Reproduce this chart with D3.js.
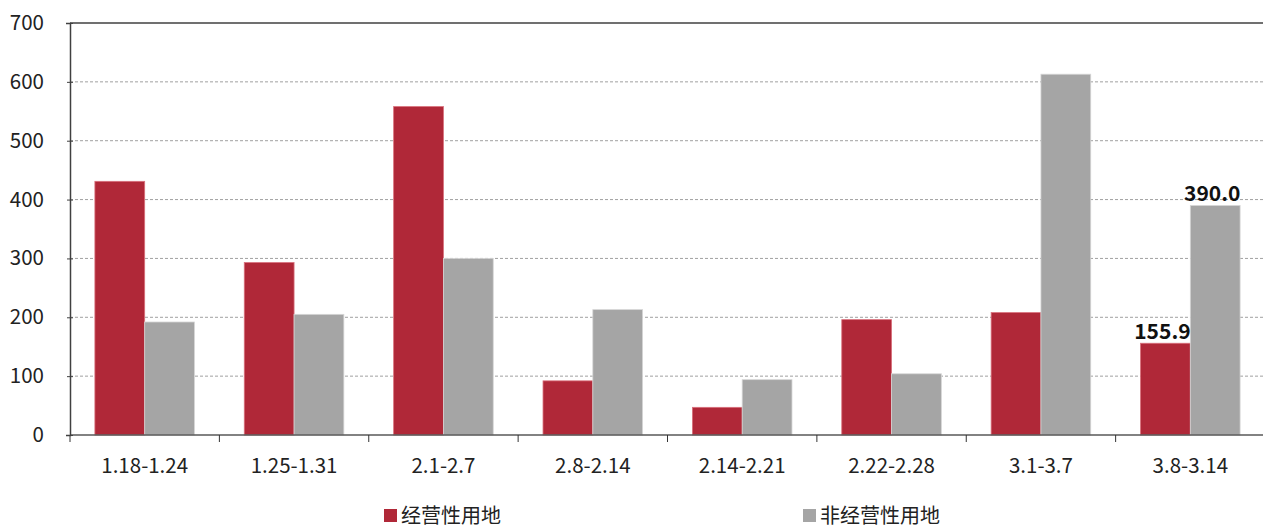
<!DOCTYPE html>
<html>
<head>
<meta charset="utf-8">
<title></title>
<script src="https://d3js.org/d3.v7.min.js"></script>
<style>
  body { margin: 0; background: #fff; }
  svg { font-family: "Noto Sans CJK SC", "Noto Sans", sans-serif; }
</style>
</head>
<body>
<svg width="1263" height="528" id="svg1"></svg>
<script>
var categories = ['1.18-1.24', '1.25-1.31', '2.1-2.7', '2.8-2.14', '2.14-2.21', '2.22-2.28', '3.1-3.7', '3.8-3.14'];
var seriesNames = ['经营性用地', '非经营性用地'];
var commercial = [431, 293, 558, 92, 47, 196, 208, 155.9];
var nonCommercial = [192, 205, 300, 213, 94, 104, 613, 390.0];
var yTicks = [0, 100, 200, 300, 400, 500, 600, 700];
var colors = ['#B02838', '#A5A5A5'];

var svg = d3.select('#svg1'),
    plotLeft = 70, plotRight = 1265, plotTop = 23, plotBottom = 435;

var data = categories.map(function(c, i) {
  return {name: c, values: [commercial[i], nonCommercial[i]]};
});

var x0 = d3.scaleBand().domain(categories).range([plotLeft, plotRight]);
var x1 = d3.scaleBand().domain([0, 1])
  .range([x0.bandwidth() / 6, x0.bandwidth() * 5 / 6]);
var y = d3.scaleLinear().domain([0, 700]).range([plotBottom, plotTop]);

// gridlines
svg.append('g')
  .selectAll('line')
  .data(yTicks.filter(function(d) { return d > 0 && d < 700; }))
  .enter().append('line')
  .attr('x1', plotLeft).attr('x2', plotRight)
  .attr('y1', function(d) { return y(d); })
  .attr('y2', function(d) { return y(d); })
  .attr('stroke', '#a0a0a0')
  .attr('stroke-width', 1)
  .attr('stroke-dasharray', '3,2');

// top border
svg.append('line')
  .attr('x1', plotLeft).attr('x2', plotRight)
  .attr('y1', y(700)).attr('y2', y(700))
  .attr('stroke', '#404040').attr('stroke-width', 1.5);

// bars
var groups = svg.append('g').selectAll('g')
  .data(data)
  .enter().append('g')
  .attr('transform', function(d) { return 'translate(' + x0(d.name) + ',0)'; });

groups.selectAll('rect')
  .data(function(d) { return d.values.map(function(v, k) { return {k: k, v: v}; }); })
  .enter().append('rect')
  .attr('x', function(d) { return x1(d.k); })
  .attr('width', x1.bandwidth())
  .attr('y', function(d) { return y(d.v); })
  .attr('height', function(d) { return plotBottom - y(d.v); })
  .attr('fill', function(d) { return colors[d.k]; })
  .attr('stroke', function(d) { return d.k === 0 ? '#d9707c' : '#d6d6d6'; })
  .attr('stroke-width', 0.8);

// data labels on last group
var last = data[data.length - 1];
svg.append('g')
  .selectAll('text')
  .data(last.values)
  .enter().append('text')
  .attr('x', function(d, k) { return x0(last.name) + x1(k) + x1.bandwidth() / 2 - 3; })
  .attr('y', function(d) { return y(d) - 4; })
  .attr('text-anchor', 'middle')
  .attr('font-size', 21)
  .attr('font-weight', 'bold')
  .attr('fill', '#111')
  .text(function(d) { return d.toFixed(1); });

// x axis
var xAxis = svg.append('g')
  .attr('transform', 'translate(0,' + plotBottom + ')');
xAxis.append('line')
  .attr('x1', plotLeft).attr('x2', plotRight)
  .attr('stroke', '#595959').attr('stroke-width', 1.5);
xAxis.selectAll('.tick')
  .data(categories)
  .enter().append('line')
  .attr('x1', function(d) { return x0(d); })
  .attr('x2', function(d) { return x0(d); })
  .attr('y1', 0).attr('y2', 7)
  .attr('stroke', '#333');
xAxis.selectAll('text')
  .data(categories)
  .enter().append('text')
  .attr('x', function(d) { return x0(d) + x0.bandwidth() / 2; })
  .attr('y', 38)
  .attr('text-anchor', 'middle')
  .attr('font-size', 20.5)
  .attr('fill', '#222')
  .text(function(d) { return d; });

// y axis
var yAxis = svg.append('g')
  .attr('transform', 'translate(' + plotLeft + ',0)')
  .call(d3.axisLeft(y).tickValues(yTicks).tickSize(4).tickPadding(22));
yAxis.select('.domain').attr('stroke', '#404040').attr('stroke-width', 1.5);
yAxis.selectAll('.tick line').attr('stroke', '#404040').attr('x2', 3).attr('x1', -3);
yAxis.selectAll('.tick text')
  .attr('font-size', 20.5)
  .attr('fill', '#222')
  .attr('font-family', '"Noto Sans CJK SC", "Noto Sans", sans-serif');

// legend
var legendX = [384, 803];
var legend = svg.append('g')
  .selectAll('g')
  .data(seriesNames)
  .enter().append('g')
  .attr('transform', function(d, i) { return 'translate(' + legendX[i] + ',509)'; });
legend.append('rect')
  .attr('width', 13).attr('height', 13)
  .attr('fill', function(d, i) { return colors[i]; });
legend.append('text')
  .attr('x', 17).attr('y', 7)
  .attr('dy', '0.35em')
  .attr('font-size', 20)
  .attr('fill', '#222')
  .text(function(d) { return d; });
</script>
</body>
</html>
